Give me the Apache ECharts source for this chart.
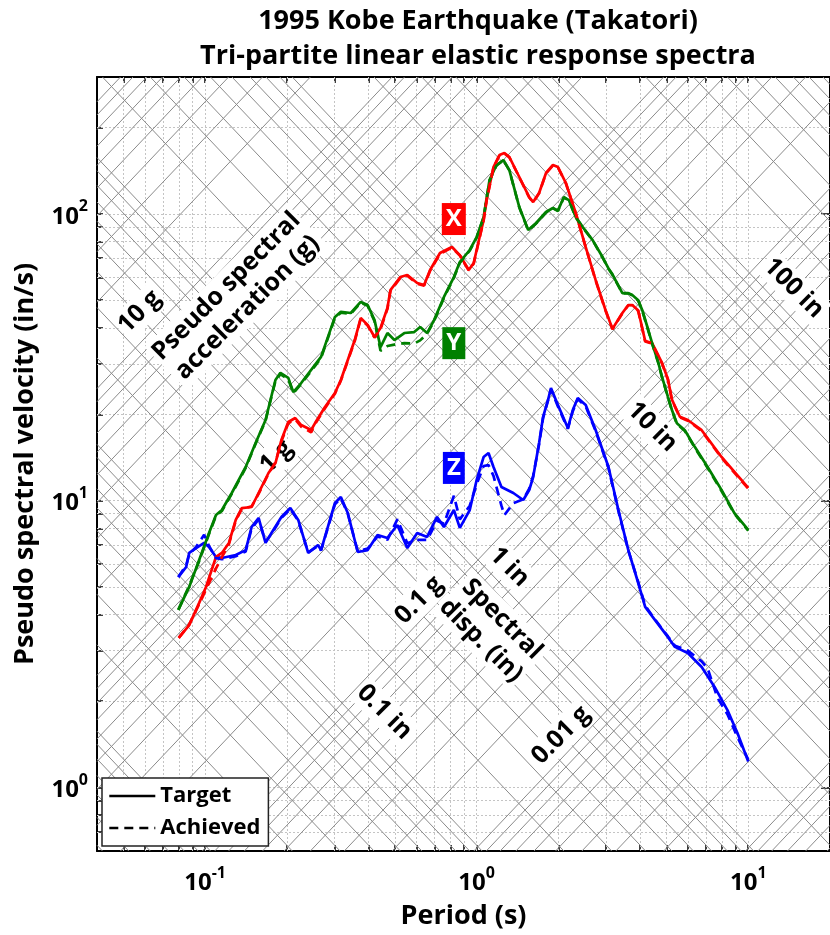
<!DOCTYPE html>
<html><head><meta charset="utf-8">
<script src="https://cdn.jsdelivr.net/npm/echarts@6/dist/echarts.min.js"></script>
<style>html,body{margin:0;padding:0;background:#fff}#c{width:830px;height:935px}</style>
</head><body><div id="c"></div>
<script>
// ---------------- data ----------------
const periodRange = [0.04, 20];          // s
const velocityRange = [0.6, 300];        // in/s
const periodMajor = [0.1, 1, 10];
const velocityMajor = [1, 10, 100];
const multipliers = [1, 2, 3, 4, 5, 6, 7, 8, 9];
const axisDecades = [-2, -1, 0, 1, 2];
const diagDecades = [-4, -3, -2, -1, 0, 1, 2, 3];
const G_IN = 386.09; // in/s^2

// X direction (red)
const xTarget = [[0.080,3.32],[0.0874,3.68],[0.0951,4.40],[0.1008,5.00],[0.1097,6.36],[0.1153,6.57],[0.1224,7.12],[0.1297,8.56],[0.1365,9.42],[0.1484,9.50],[0.1574,10.63],[0.1712,12.48],[0.1816,13.52],[0.1910,16.27],[0.2025,18.80],[0.2148,19.41],[0.2259,18.34],[0.2458,17.63],[0.2541,18.64],[0.2764,21.21],[0.3007,23.72],[0.3162,26.34],[0.3557,36.3],[0.3741,43.3],[0.3968,41.0],[0.4207,37.2],[0.4426,40.0],[0.4693,47.0],[0.4814,54.2],[0.5236,60.2],[0.5553,61.2],[0.6040,57.4],[0.6406,56.5],[0.6738,63.7],[0.7328,73.0],[0.8106,76.6],[0.8670,71.8],[0.9350,63.7],[0.9751,67.4],[1.0255,83.0],[1.0605,95.1],[1.0876,111.7],[1.1535,145.6],[1.2131,160.3],[1.2653,162.9],[1.3194,157.8],[1.4355,134.4],[1.5614,114.4],[1.6146,109.9],[1.6978,118.2],[1.8006,138.8],[1.9096,148.0],[1.9917,145.6],[2.1304,128.1],[2.3174,100.6],[2.5209,76.6],[2.7416,58.8],[2.9813,46.2],[3.1623,39.7],[3.4397,45.1],[3.6175,48.1],[3.7413,48.1],[3.9350,46.0],[4.1733,36.0],[4.4259,35.4],[4.8138,30.2],[5.0624,26.5],[5.2358,22.5],[5.6004,19.6],[5.9895,19.1],[6.7380,17.6],[7.9725,14.2],[10.0,11.07]];
const xAchieved = [[0.080,3.32],[0.0874,3.70],[0.0951,4.35],[0.1008,4.90],[0.1097,5.80],[0.1153,6.35],[0.1224,7.05],[0.1297,8.50],[0.1365,9.35],[0.1484,9.55],[0.1574,10.55],[0.1712,12.40],[0.1816,13.60],[0.1910,16.10],[0.2025,18.60],[0.2148,19.20],[0.2259,18.10],[0.2458,17.30],[0.2541,18.50],[0.2764,21.0],[0.3007,23.6],[0.3162,26.2],[0.3557,36.0],[0.3741,43.0],[0.3968,40.8],[0.4207,37.0],[0.4426,39.6],[0.4693,46.6],[0.4814,53.8],[0.5236,59.8],[0.5553,60.9],[0.6040,57.0],[0.6406,56.2],[0.6738,63.3],[0.7328,72.6],[0.8106,76.2],[0.8670,71.5],[0.9350,63.5],[0.9751,67.0],[1.0255,82.5],[1.0605,94.6],[1.0876,111.0],[1.1535,145.0],[1.2131,159.8],[1.2653,162.4],[1.3194,157.4],[1.4355,134.0],[1.5614,114.0],[1.6146,109.6],[1.6978,118.0],[1.8006,138.4],[1.9096,147.6],[1.9917,145.2],[2.1304,127.8],[2.3174,100.4],[2.5209,76.4],[2.7416,58.6],[2.9813,46.0],[3.1623,39.6],[3.4397,45.0],[3.6175,48.0],[3.7413,48.0],[3.9350,45.8],[4.1733,35.9],[4.4259,35.3],[4.8138,30.1],[5.0624,26.4],[5.2358,22.4],[5.6004,19.5],[5.9895,19.0],[6.7380,17.5],[7.9725,14.1],[10.0,11.0]];

// Y direction (green)
const yTarget = [[0.0797,4.16],[0.0874,5.00],[0.0951,6.21],[0.1034,7.71],[0.1097,8.91],[0.1153,9.27],[0.1254,10.63],[0.1411,13.10],[0.1535,15.88],[0.1670,19.10],[0.1741,22.43],[0.1816,26.34],[0.1894,27.9],[0.2025,26.8],[0.2113,23.9],[0.2259,25.7],[0.2673,31.7],[0.3007,43.7],[0.3162,45.5],[0.3440,45.1],[0.3741,49.3],[0.3968,48.1],[0.4207,42.6],[0.4426,34.3],[0.4693,38.4],[0.4979,36.3],[0.5414,38.4],[0.5889,38.7],[0.6194,40.3],[0.6570,38.4],[0.6969,42.6],[0.7579,51.3],[0.8244,60.2],[0.8670,67.9],[0.9430,74.8],[1.0,83.0],[1.0605,97.4],[1.1153,131.2],[1.1830,148.0],[1.2546,154.0],[1.3194,142.1],[1.4355,105.6],[1.5484,87.8],[1.6557,92.9],[1.8006,101.5],[1.9096,104.8],[1.9917,102.6],[2.0948,114.4],[2.1848,111.7],[2.3174,97.4],[2.4582,89.9],[2.6730,81.0],[2.9068,70.7],[3.0576,64.5],[3.1623,61.5],[3.4397,52.9],[3.6175,52.9],[3.7413,52.1],[3.9350,50.0],[4.0696,46.2],[4.2797,39.5],[4.4259,35.4],[4.6546,30.5],[4.8138,27.0],[5.0624,23.0],[5.2358,20.7],[5.4606,18.6],[5.8400,17.6],[6.3535,15.4],[7.0860,13.1],[7.9725,10.9],[8.8898,9.05],[10.0,7.9]];
const yAchieved = [[0.0797,4.16],[0.0874,5.05],[0.0951,6.15],[0.1034,7.65],[0.1097,8.85],[0.1153,9.20],[0.1254,10.55],[0.1411,13.0],[0.1535,15.8],[0.1670,19.0],[0.1741,22.3],[0.1816,26.1],[0.1894,27.6],[0.2025,26.5],[0.2113,23.7],[0.2259,25.5],[0.2673,31.4],[0.3007,43.4],[0.3162,45.2],[0.3440,44.8],[0.3741,49.0],[0.3968,47.8],[0.4207,42.2],[0.4426,33.3],[0.4693,34.6],[0.4979,35.0],[0.5414,35.4],[0.5889,35.3],[0.6194,36.2],[0.6570,38.2],[0.6969,42.3],[0.7579,51.0],[0.8244,59.8],[0.8670,67.5],[0.9430,74.4],[1.0,82.6],[1.0605,97.0],[1.1153,130.6],[1.1830,147.4],[1.2546,153.5],[1.3194,141.7],[1.4355,105.3],[1.5484,87.5],[1.6557,92.6],[1.8006,101.2],[1.9096,104.5],[1.9917,102.3],[2.0948,114.0],[2.1848,111.4],[2.3174,97.2],[2.4582,89.7],[2.6730,80.8],[2.9068,70.5],[3.0576,64.3],[3.1623,61.3],[3.4397,52.8],[3.6175,52.8],[3.7413,52.0],[3.9350,49.8],[4.0696,46.0],[4.2797,39.3],[4.4259,35.3],[4.6546,30.4],[4.8138,26.9],[5.0624,22.9],[5.2358,20.6],[5.4606,18.5],[5.8400,17.5],[6.3535,15.3],[7.0860,13.0],[7.9725,10.8],[8.8898,9.0],[10.0,7.85]];

// Z direction (blue)
const zTarget = [[0.0797,5.41],[0.0852,5.87],[0.0874,6.57],[0.0927,6.83],[0.0992,7.12],[0.1034,6.89],[0.1097,6.36],[0.1153,6.31],[0.1297,6.46],[0.1411,6.72],[0.1484,8.09],[0.1574,8.70],[0.1670,7.12],[0.1756,7.71],[0.1910,8.77],[0.2060,9.42],[0.2203,8.56],[0.2397,6.57],[0.2606,7.00],[0.2673,6.72],[0.3007,9.81],[0.3162,10.29],[0.3353,9.05],[0.3648,6.62],[0.3968,6.72],[0.4315,7.59],[0.4693,7.41],[0.5105,8.22],[0.5553,6.83],[0.6040,7.71],[0.6570,7.47],[0.7145,8.77],[0.7579,8.09],[0.8244,9.27],[0.8670,8.03],[0.9430,9.27],[1.0,11.80],[1.0605,14.19],[1.1060,14.66],[1.1535,13.10],[1.2337,11.15],[1.3646,10.63],[1.4846,10.05],[1.5614,10.89],[1.6146,12.08],[1.6978,15.88],[1.7559,19.56],[1.8311,22.43],[1.8777,24.70],[1.9917,21.54],[2.1665,17.91],[2.2594,20.7],[2.3567,22.79],[2.5209,21.54],[2.7416,17.63],[3.0576,13.10],[3.3260,9.27],[3.6175,6.72],[3.9350,5.16],[4.1733,4.26],[4.5389,3.83],[5.0624,3.34],[5.3697,3.09],[5.9895,2.94],[6.7380,2.63],[7.5164,2.24],[8.3824,1.86],[9.1177,1.55],[10.0,1.23]];
const zAchieved = [[0.0797,5.41],[0.0852,5.95],[0.0874,6.50],[0.0927,6.90],[0.0992,7.60],[0.1034,6.95],[0.1097,6.30],[0.1153,6.25],[0.1297,6.40],[0.1411,6.65],[0.1484,8.00],[0.1574,8.60],[0.1670,7.20],[0.1756,7.65],[0.1910,8.70],[0.2060,9.35],[0.2203,8.50],[0.2397,6.60],[0.2606,6.95],[0.2673,6.70],[0.3007,9.70],[0.3162,10.20],[0.3353,9.00],[0.3648,6.65],[0.3968,6.80],[0.4315,7.50],[0.4693,7.30],[0.5105,8.60],[0.5553,7.10],[0.6040,7.30],[0.6570,7.30],[0.7145,8.50],[0.7579,8.30],[0.8244,10.40],[0.8670,8.60],[0.9430,9.60],[1.0,11.40],[1.0605,13.20],[1.1060,13.30],[1.1535,12.20],[1.2337,9.60],[1.2653,8.90],[1.3646,9.80],[1.4846,10.10],[1.5614,11.00],[1.6146,12.20],[1.6978,15.70],[1.7559,19.40],[1.8311,22.30],[1.8777,24.40],[1.9917,21.30],[2.1665,17.80],[2.2594,20.5],[2.3567,22.60],[2.5209,21.30],[2.7416,17.50],[3.0576,13.00],[3.3260,9.20],[3.6175,6.70],[3.9350,5.20],[4.1733,4.30],[4.5389,3.85],[5.0624,3.36],[5.3697,3.12],[5.9895,3.00],[6.7380,2.75],[7.0860,2.60],[7.7087,2.05],[8.3824,1.80],[9.1177,1.50],[10.0,1.25]];

// annotations (period, velocity)
const curveTags = [['X', 0.824, 95.9], ['Y', 0.824, 35.4], ['Z', 0.824, 13.0]];
const accelLabels = [['10 g', 0.0574, 45.5], ['1 g', 0.183, 14.2], ['0.1 g', 0.614, 4.50], ['0.01 g', 2.043, 1.52], ['Pseudo spectral\nacceleration (g)', 0.131, 51.3]];
const dispLabels = [['100 in', 14.7, 55.1], ['10 in', 4.43, 18.06], ['1 in', 1.319, 5.87], ['0.1 in', 0.458, 1.83], ['Spectral\ndisp. (in)', 1.134, 3.54]];
const titleLines = ['1995 Kobe Earthquake (Takatori)', 'Tri-partite linear elastic response spectra'];

// ---------------- derived grid ----------------
const FF = '"Open Sans","Noto Sans",sans-serif';
const [Tmin, Tmax] = periodRange, [Vmin, Vmax] = velocityRange;
const inRange = (v, r) => v >= r[0] * 0.9999 && v <= r[1] * 1.0001;
const decadeValues = (decs) => { const o = []; decs.forEach(k => multipliers.forEach(m => o.push(+(m * Math.pow(10, k)).toPrecision(6)))); return o; };
const xTicks = decadeValues(axisDecades).filter(v => inRange(v, periodRange));
const yTicks = decadeValues(axisDecades).filter(v => inRange(v, velocityRange));

const dotted = [];
xTicks.forEach(t => { if (t > Tmin * 1.001 && t < Tmax * 0.999) dotted.push({coords: [[t, Vmin], [t, Vmax]]}); });
yTicks.forEach(v => { if (v > Vmin * 1.001 && v < Vmax * 0.999) dotted.push({coords: [[Tmin, v], [Tmax, v]]}); });

const diag = [];
decadeValues(diagDecades).forEach(d => {
  // constant spectral displacement d (in): V = 2*pi*d/T
  const cd = 2 * Math.PI * d;
  let lo = Math.max(Tmin, cd / Vmax), hi = Math.min(Tmax, cd / Vmin);
  if (lo < hi) diag.push({coords: [[lo, cd / lo], [hi, cd / hi]]});
  // constant pseudo spectral acceleration d (g): V = d*g*T/(2*pi)
  const ca = d * G_IN / (2 * Math.PI);
  lo = Math.max(Tmin, Vmin / ca); hi = Math.min(Tmax, Vmax / ca);
  if (lo < hi) diag.push({coords: [[lo, ca * lo], [hi, ca * hi]]});
});

const supFmt = v => '{b|10}{s|' + Math.round(Math.log10(v)) + '}';
const rich = {
  b: {fontSize: 24, fontWeight: 'bold', fontFamily: FF, color: '#000', lineHeight: 30, verticalAlign: 'bottom'},
  s: {fontSize: 16, fontWeight: 'bold', fontFamily: FF, color: '#000', lineHeight: 13, verticalAlign: 'top'}
};
const axLine = {show: true, onZero: false, lineStyle: {color: '#000', width: 2}};
const nameStyle = {fontSize: 27, fontWeight: 'bold', fontFamily: FF, color: '#000'};

function xAxis(pos, main) {
  return {
    type: 'log', logBase: 10, min: Tmin, max: Tmax, position: pos, gridIndex: 0,
    axisLine: axLine,
    axisTick: {show: true, inside: true, length: 6, customValues: xTicks, lineStyle: {color: '#000', width: 1.5}},
    axisLabel: {show: main, customValues: periodMajor, formatter: supFmt, rich: rich, margin: 14},
    splitLine: {show: false},
    name: main ? 'Period (s)' : '', nameLocation: 'middle', nameGap: 52, nameTextStyle: nameStyle
  };
}
function yAxis(pos, main) {
  return {
    type: 'log', logBase: 10, min: Vmin, max: Vmax, position: pos, gridIndex: 0,
    axisLine: axLine,
    axisTick: {show: true, inside: true, length: main ? 6 : 9, customValues: main ? yTicks : velocityMajor,
      lineStyle: {color: '#000', width: 1.5}},
    axisLabel: {show: main, customValues: velocityMajor, formatter: supFmt, rich: rich, margin: 9},
    splitLine: {show: false},
    name: main ? 'Pseudo spectral velocity (in/s)' : '', nameLocation: 'middle', nameGap: 58, nameRotate: 90,
    nameTextStyle: nameStyle
  };
}

const curve = (name, data, color, dashed) => ({
  name: name, type: 'line', data: data, xAxisIndex: 0, yAxisIndex: 0,
  showSymbol: false, symbol: 'none', z: dashed ? 4 : 3, animation: false,
  lineStyle: {color: color, width: 2.7, type: dashed ? [9, 6] : 'solid'},
  itemStyle: {color: color}
});

const textSeries = (items, rot) => ({
  type: 'scatter', xAxisIndex: 0, yAxisIndex: 0, symbol: 'rect', symbolSize: 1, z: 2.5, silent: true,
  itemStyle: {color: 'rgba(0,0,0,0)', opacity: 1},
  data: items.map(it => ({name: it[0], value: [it[1], it[2]]})),
  label: {show: true, position: 'inside', formatter: '{b}', rotate: rot, align: 'center', opacity: 1,
    fontSize: 25, fontWeight: 'bold', fontFamily: FF, color: '#000', lineHeight: 30,
    backgroundColor: '#fff', padding: [0, 2]}
});

const tagColors = ['#ff0000', '#008000', '#0000ff'];

const option = {
  animation: false,
  backgroundColor: '#fff',
  grid: {left: 97, right: -7, top: 77, bottom: 84, containLabel: false},
  graphic: titleLines.map((t, i) => ({
    type: 'text', x: 478, y: 21 + i * 35, z: 10,
    style: {text: t, align: 'center', verticalAlign: 'middle', font: 'bold 27px ' + FF, fill: '#000'}
  })),
  legend: {
    left: 102, top: 778, orient: 'vertical', data: ['Target', 'Achieved'],
    itemWidth: 46, itemHeight: 14, itemGap: 10,
    itemStyle: {color: 'rgba(0,0,0,0)', borderColor: 'rgba(0,0,0,0)', borderWidth: 0, opacity: 0},
    lineStyle: {width: 2.6, color: '#000'},
    textStyle: {fontSize: 22, fontWeight: 'bold', fontFamily: FF, color: '#000'},
    backgroundColor: '#fff', borderColor: '#222', borderWidth: 1.5, borderRadius: 0, padding: [7, 8, 7, 6],
    selectedMode: false
  },
  xAxis: [xAxis('bottom', true), xAxis('top', false)],
  yAxis: [yAxis('left', true), yAxis('right', false)],
  series: [
    {type: 'lines', coordinateSystem: 'cartesian2d', xAxisIndex: 0, yAxisIndex: 0, z: 1, silent: true,
     lineStyle: {color: '#c4c4c4', width: 1, type: [2, 2], opacity: 1}, data: dotted},
    {type: 'lines', coordinateSystem: 'cartesian2d', xAxisIndex: 0, yAxisIndex: 0, z: 2, silent: true,
     lineStyle: {color: '#8a8a8a', width: 1, opacity: 1}, data: diag},
    curve('Target', [], '#000', false),
    curve('Achieved', [], '#000', true),
    curve('Z target', zTarget, '#0000ff', false),
    curve('Z achieved', zAchieved, '#0000ff', true),
    curve('Y target', yTarget, '#008000', false),
    curve('Y achieved', yAchieved, '#008000', true),
    curve('X target', xTarget, '#ff0000', false),
    curve('X achieved', xAchieved, '#ff0000', true),
    textSeries(accelLabels, 45),
    textSeries(dispLabels, -45),
    {type: 'scatter', xAxisIndex: 0, yAxisIndex: 0, symbol: 'rect', symbolSize: 1, z: 7, silent: true,
     itemStyle: {color: 'rgba(0,0,0,0)', opacity: 1},
     data: curveTags.map((it, i) => ({name: it[0], value: [it[1], it[2]],
       label: {backgroundColor: tagColors[i]}})),
     label: {show: true, position: 'inside', formatter: '{b}', fontSize: 24, fontWeight: 'bold', fontFamily: FF,
       color: '#fff', opacity: 1, padding: [5, 4, 3, 4], lineHeight: 24}}
  ]
};

const chart = echarts.init(document.getElementById('c'), null, {renderer: 'canvas', width: 830, height: 935});
chart.setOption(option);
</script>
</body></html>
